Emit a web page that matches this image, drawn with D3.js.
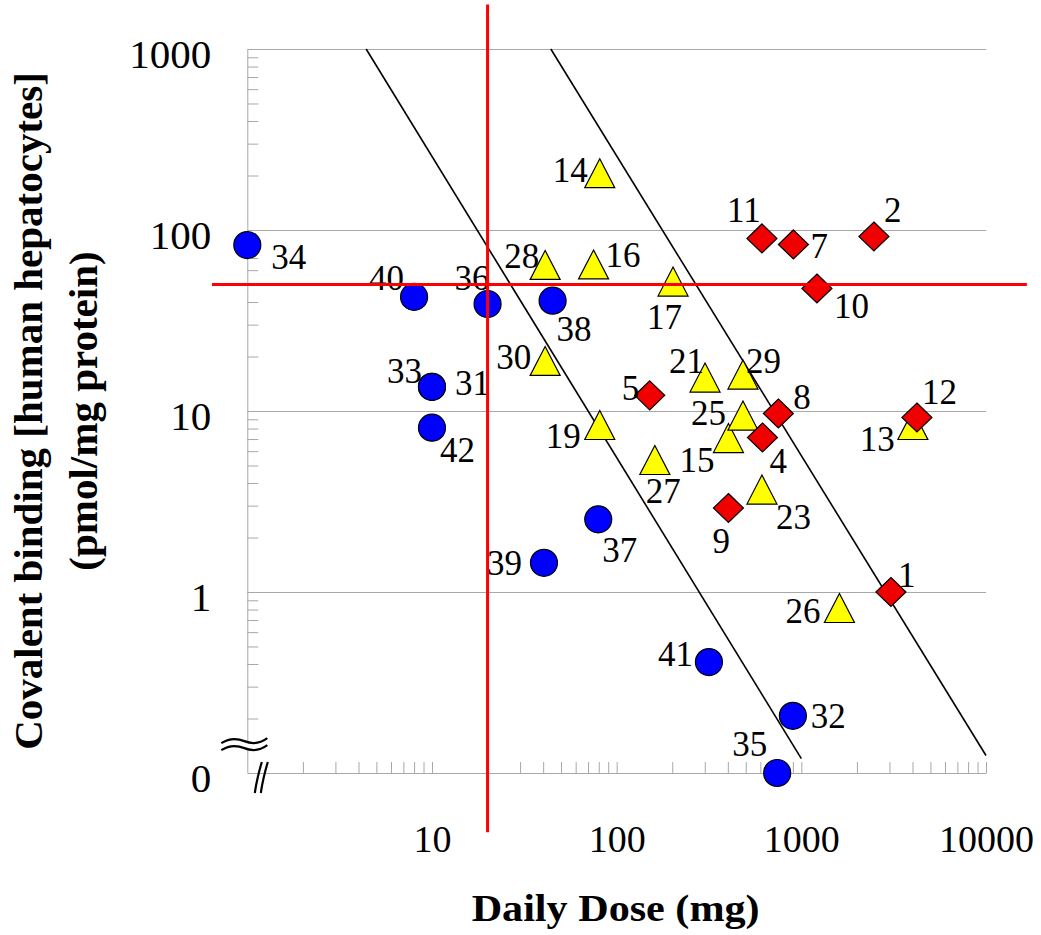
<!DOCTYPE html>
<html><head><meta charset="utf-8">
<script src="https://cdn.jsdelivr.net/npm/d3@7"></script>
<style>
html,body{margin:0;padding:0;background:#fff;}
svg{display:block;font-family:"Liberation Serif","Times New Roman",serif;}
</style></head>
<body>
<svg id="chart" width="1041" height="935"></svg>
<script>
// ---------- data ----------
// blue circles (compounds 31-42)
const circleIds     = [31, 32, 33, 34, 35, 36, 37, 38, 39, 40, 41, 42];
const circleDose    = [10, 900, 10, 1, 740, 20, 79.5, 45, 40.4, 8, 316, 10];
const circleBinding = [13.6, 0.207, 13.6, 82.6, 0, 39, 2.52, 40.7, 1.45, 42.7, 0.41, 8.09];
// yellow triangles
const triIds     = [13, 14, 15, 16, 17, 19, 21, 23, 25, 26, 27, 28, 29, 30];
const triDose    = [4018, 81, 403, 75, 202, 81, 301, 612, 483, 1608, 161, 41, 483, 41];
const triBinding = [8.37, 206, 7.09, 64.5, 51.9, 8.37, 15.3, 3.68, 9.44, 0.816, 5.36, 64.1, 15.9, 18.9];
// red diamonds
const diaIds     = [1, 2, 4, 5, 7, 8, 9, 10, 11, 12];
const diaDose    = [3056, 2472, 616, 151, 906, 751, 403, 1215, 612, 4227];
const diaBinding = [1.0, 92.1, 7.14, 12.2, 83.2, 9.69, 2.91, 47.5, 89.8, 9.21];
// reference lines (dose, binding)
const lineA = [[4.4, 1000], [1000, 0.12]];
const lineB = [[44, 1000], [10000, 0.125]];
// threshold lines (red)
const thresholdV = [[20, 0.047], [20, 1760]];
const thresholdH = [[0.644, 50], [16650, 50]];
// ticks
const xTickVals   = [10, 100, 1000, 10000];
const xTickLabels = ["10", "100", "1000", "10000"];
const yTickVals   = [0.1, 1, 10, 100, 1000];
const yTickLabels = ["0", "1", "10", "100", "1000"];
const gridVals    = [1, 10, 100, 1000];
const xTitle  = "Daily Dose (mg)";
const yTitle1 = "Covalent binding [human hepatocytes]";
const yTitle2 = "(pmol/mg protein)";

// label placement (layout only): [dx, dy] from marker centre to text start / baseline
const labelOffsets = {
  34:[24,24], 40:[-45,-7], 36:[-33,-14], 38:[4,40], 33:[-45,-4], 31:[23,8], 42:[8,34],
  37:[4,43], 39:[-57,12], 41:[-51,4], 32:[18,12], 35:[-45,-17],
  14:[-47,9], 28:[-41,3], 16:[12,3], 17:[-26,47], 30:[-49,8], 19:[-54,23], 27:[-9,43],
  21:[-36,-5], 29:[3,-2], 25:[-52,9], 15:[-49,34], 23:[14,39], 13:[-53,26], 26:[-54,15],
  11:[-35,-16], 7:[17,14], 2:[10,-14], 10:[17,29], 5:[-28,5], 8:[15,-4], 4:[7,36],
  9:[-16,45], 12:[5,-13], 1:[7,-5]
};

// ---------- chart ----------
const svg = d3.select("#chart");
const x = d3.scaleLog().domain([1, 10000]).range([247.3, 986]);
const y = d3.scaleLog().domain([0.1, 1000]).range([773, 49]);
const yv = v => y(v <= 0 ? 0.1 : v);
const FONT = "Liberation Serif";

const minorX = [];
for (let e = 0; e < 4; e++) for (let m = 2; m <= 10; m++) minorX.push(m * Math.pow(10, e));
const minorY = [];
for (let e = -1; e < 3; e++) for (let m = 2; m <= 9; m++) minorY.push(+(m * Math.pow(10, e)).toPrecision(3));

const gray = "#a8a8a8";

// gridlines
const grid = svg.append("g").attr("transform", `translate(${x(1)},0)`)
  .call(d3.axisLeft(y).tickValues(gridVals).tickSize(-(x(10000) - x(1))).tickFormat(""));
grid.select(".domain").remove();
grid.selectAll("line").attr("stroke", gray).attr("stroke-width", 1);

// x axis (ticks upward)
const xa = svg.append("g").attr("transform", `translate(0,${y(0.1)})`)
  .call(d3.axisTop(x).tickValues(minorX).tickSize(11).tickSizeOuter(0).tickFormat(""));
xa.select(".domain").attr("stroke", gray);
xa.selectAll("line").attr("stroke", gray);

// y axis (ticks right)
const ya = svg.append("g").attr("transform", `translate(${x(1)},0)`)
  .call(d3.axisRight(y).tickValues(minorY).tickSize(11).tickSizeOuter(0).tickFormat(""));
ya.select(".domain").attr("stroke", gray);
ya.selectAll("line").attr("stroke", gray);

// x tick labels
const xl = svg.append("g").attr("transform", `translate(0,${y(0.1)})`)
  .call(d3.axisBottom(x).tickValues(xTickVals).tickSize(0)
    .tickFormat((d, i) => xTickLabels[i]));
xl.select(".domain").remove();
xl.selectAll("text").attr("y", 79).attr("dy", 0)
  .attr("font-family", FONT).attr("font-size", 38).attr("fill", "#000");

// y tick labels
const yl = svg.append("g").attr("transform", `translate(${x(1)},0)`)
  .call(d3.axisLeft(y).tickValues(yTickVals).tickSize(0)
    .tickFormat((d, i) => yTickLabels[i]));
yl.select(".domain").remove();
yl.selectAll("text").attr("x", -36).attr("dy", 18)
  .attr("font-family", FONT).attr("font-size", 41).attr("fill", "#000");

// axis breaks
const yb = y(0.15), xb = x(1.14);
svg.append("path")
  .attr("d", `M${x(1)-26},${yb+2} q11,-7 23,-2 t23,-3 l0,7 q-12,5 -23,2 t-23,3 z`)
  .attr("fill", "#fff").attr("stroke", "none");
svg.append("path")
  .attr("d", `M${x(1)-26},${yb+2} q11,-7 23,-2 t23,-3 M${x(1)-26},${yb+9} q11,-7 23,-2 t23,-3`)
  .attr("fill", "none").attr("stroke", "#000").attr("stroke-width", 2.2);
svg.append("path")
  .attr("d", `M${xb-3},${y(0.1)+20} q2,-14 7,-31 M${xb+3},${y(0.1)+20} q2,-14 7,-31`)
  .attr("fill", "none").attr("stroke", "#000").attr("stroke-width", 2.2);

// reference lines
const lineGen = d3.line().x(d => x(d[0])).y(d => y(d[1]));
[lineA, lineB].forEach(l => svg.append("path").attr("d", lineGen(l))
  .attr("fill", "none").attr("stroke", "#000").attr("stroke-width", 1.6));

// markers
const circles = circleIds.map((id, i) => ({id, dose: circleDose[i], b: circleBinding[i]}));
const tris = triIds.map((id, i) => ({id, dose: triDose[i], b: triBinding[i]}));
const dias = diaIds.map((id, i) => ({id, dose: diaDose[i], b: diaBinding[i]}));

svg.append("g").selectAll("circle").data(circles).join("circle")
  .attr("cx", d => x(d.dose)).attr("cy", d => yv(d.b)).attr("r", 13.5)
  .attr("fill", "#0000ff").attr("stroke", "#000").attr("stroke-width", 1.2);

svg.append("g").selectAll("path").data(tris).join("path")
  .attr("transform", d => `translate(${x(d.dose)},${yv(d.b)})`)
  .attr("d", "M0,-14.5L15,14.5L-15,14.5Z")
  .attr("fill", "#ffff00").attr("stroke", "#000").attr("stroke-width", 1.2);

svg.append("g").selectAll("path").data(dias).join("path")
  .attr("transform", d => `translate(${x(d.dose)},${yv(d.b)})`)
  .attr("d", "M0,-14.5L15,0L0,14.5L-15,0Z")
  .attr("fill", "#f00000").attr("stroke", "#000").attr("stroke-width", 1.2);

// point labels
const all = circles.concat(tris, dias);
svg.append("g").selectAll("text").data(all).join("text")
  .attr("x", d => x(d.dose) + labelOffsets[d.id][0])
  .attr("y", d => yv(d.b) + labelOffsets[d.id][1])
  .attr("font-family", FONT).attr("font-size", 35).attr("fill", "#000")
  .text(d => d.id);

// threshold red lines
[thresholdV, thresholdH].forEach(l => svg.append("path").attr("d", lineGen(l))
  .attr("fill", "none").attr("stroke", "#ff0000").attr("stroke-width", 3));

// titles
svg.append("text").attr("x", (x(1) + x(10000)) / 2 - 1).attr("y", 921)
  .attr("text-anchor", "middle").attr("font-family", FONT)
  .attr("font-weight", "bold").attr("font-size", 38)
  .attr("textLength", 288).attr("lengthAdjust", "spacingAndGlyphs")
  .text(xTitle);
const ymid = (y(0.1) + y(1000)) / 2;
svg.append("text").attr("transform", `translate(42,${ymid}) rotate(-90)`)
  .attr("text-anchor", "middle").attr("font-family", FONT)
  .attr("font-weight", "bold").attr("font-size", 41)
  .text(yTitle1);
svg.append("text").attr("transform", `translate(97,${ymid}) rotate(-90)`)
  .attr("text-anchor", "middle").attr("font-family", FONT)
  .attr("font-weight", "bold").attr("font-size", 41)
  .text(yTitle2);
</script>
</body></html>
